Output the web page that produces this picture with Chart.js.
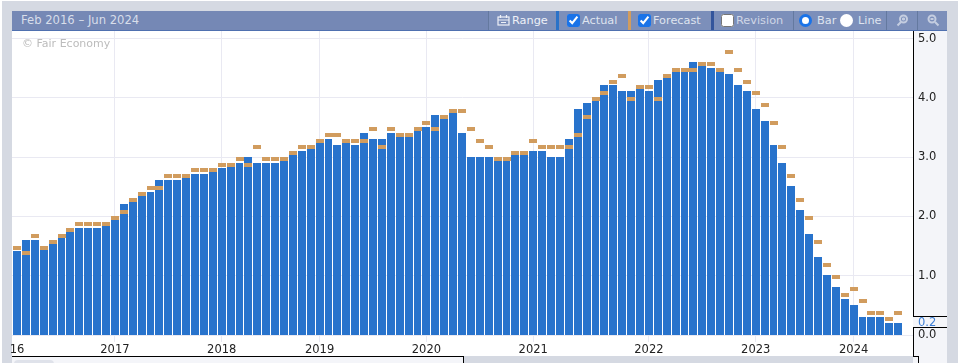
<!DOCTYPE html>
<html>
<head>
<meta charset="utf-8">
<script src="https://cdn.jsdelivr.net/npm/chart.js@4"></script>
<style>
  html, body { margin: 0; padding: 0; background: #fff; }
  body { width: 959px; height: 363px; overflow: hidden; position: relative; font: 11px "DejaVu Sans", sans-serif; }
  .box { position: absolute; }
  #chart { position: absolute; left: 0; top: 0; }
  .seg { position: absolute; top: 11px; height: 19px; background: #7c8fba; border-left: 1px solid #64799f; color: #dfe4ef; font-size: 11.3px; line-height: 19px; white-space: nowrap; box-sizing: border-box; }
  .seg input { position: absolute; top: 3px; margin: 0; width: 13px; height: 13px; accent-color: #1a73e8; }
  .seg span { position: absolute; top: 0; }
  .strip { position: absolute; top: 11px; height: 19px; width: 3px; }
  .radio { position: absolute; top: 3px; width: 13px; height: 13px; border-radius: 50%; background: #fff; box-sizing: border-box; }
  .seg svg { position: absolute; }
</style>
</head>
<body>
<div class="box" style="left:2px;top:1px;width:956px;height:362px;background:#d5d9e2"></div>
<div class="box" style="left:12px;top:31px;width:901px;height:325px;background:#fff"></div>
<div class="box" style="left:913px;top:31px;width:34px;height:332px;background:#f4f5f9"></div>
<div class="box" style="left:12px;top:356px;width:451px;height:7px;background:#f4f5f9"></div>
<div class="box" style="left:14px;top:360px;width:40px;height:4px;background:#dfe2ea;border-radius:8px 8px 0 0"></div>

<canvas id="chart" width="959" height="363"></canvas>

<div class="box" style="left:913px;top:31px;width:1px;height:286px;background:#000"></div>
<div class="box" style="left:913px;top:316px;width:34px;height:1px;background:#000"></div>
<div class="box" style="left:913px;top:327px;width:34px;height:1px;background:#000"></div>
<div class="box" style="left:913px;top:327px;width:1px;height:30px;background:#000"></div>
<div class="box" style="left:913px;top:356px;width:6px;height:1px;background:#000"></div>
<div class="box" style="left:918px;top:356px;width:1px;height:7px;background:#000"></div>
<div class="box" style="left:12px;top:356px;width:451px;height:1px;background:#000"></div>
<div class="box" style="left:463px;top:356px;width:1px;height:7px;background:#000"></div>

<div class="box" style="left:12px;top:11px;width:935px;height:19px;background:#7588b5"></div>
<div class="box" style="left:12px;top:30px;width:935px;height:1px;background:#4f70b0"></div>
<div class="box" style="left:21px;top:11px;line-height:19px;font-size:11.6px;color:#d8deea">Feb 2016 – Jun 2024</div>
<div class="box" style="left:22px;top:37px;line-height:14px;color:#bcbcbc">© Fair Economy</div>

<div class="seg" style="left:488px;width:68px;color:#eef1f7">
  <svg style="left:8px;top:3px" width="13" height="12" viewBox="0 0 13 12" fill="none" stroke="#eef1f7" stroke-width="1.2"><rect x="1" y="3" width="11" height="8"/><path d="M1 6h11M3.5 1v3M9.5 1v3M4 8.5h5"/></svg>
  <span style="left:23px">Range</span>
</div>
<div class="strip" style="left:556px;background:#2a72c8"></div>
<div class="seg" style="left:559px;width:69px;border:0">
  <input type="checkbox" checked style="left:8px"><span style="left:23px">Actual</span>
</div>
<div class="strip" style="left:628px;background:#d19c5e"></div>
<div class="seg" style="left:631px;width:80px;border:0">
  <input type="checkbox" checked style="left:7px"><span style="left:22px">Forecast</span>
</div>
<div class="strip" style="left:711px;background:#33559c"></div>
<div class="seg" style="left:714px;width:80px;border:0">
  <input type="checkbox" style="left:7px"><span style="left:22px;color:#cfd6e6">Revision</span>
</div>
<div class="seg" style="left:793px;width:93px">
  <div class="radio" style="left:5px;border:3px solid #1a73e8"></div><span style="left:23px">Bar</span>
  <div class="radio" style="left:46px"></div><span style="left:64px">Line</span>
</div>
<div class="seg" style="left:886px;width:31px">
  <svg style="left:9px;top:3px" width="13" height="13" viewBox="0 0 13 13" fill="none" stroke="#c4cde0" stroke-width="2"><circle cx="7.5" cy="5" r="3.5"/><path d="M5 8l-3.5 3.5M6 5h3M7.5 3.5v3" /></svg>
</div>
<div class="seg" style="left:917px;width:30px">
  <svg style="left:9px;top:3px" width="13" height="13" viewBox="0 0 13 13" fill="none" stroke="#c4cde0" stroke-width="2"><circle cx="5" cy="5" r="3.5"/><path d="M8 8l3.5 3.5M3.5 5h3"/></svg>
</div>

<script>
// 발표 순서대로 읽은 값 (Feb 2016 - Jun 2024)
const actual = [
  1.4, 1.6, 1.6, 1.5, 1.6, 1.7, 1.8, 1.8, 1.8, 1.8,
  1.9, 2.0, 2.2, 2.3, 2.4, 2.4, 2.6, 2.6, 2.6, 2.7,
  2.7, 2.7, 2.8, 2.8, 2.9, 2.9, 3.0, 2.9, 2.9, 2.9,
  3.0, 3.1, 3.1, 3.2, 3.3, 3.3, 3.2, 3.3, 3.2, 3.4,
  3.3, 3.3, 3.4, 3.4, 3.4, 3.5, 3.5, 3.7, 3.7, 3.8,
  3.4, 3.0, 3.0, 3.0, 3.0, 3.0, 3.1, 3.1, 3.1, 3.1,
  3.0, 3.0, 3.3, 3.8, 3.9, 4.0, 4.2, 4.2, 4.1, 4.1,
  4.2, 4.1, 4.3, 4.4, 4.5, 4.5, 4.6, 4.6, 4.5, 4.5,
  4.4, 4.2, 4.1, 3.8, 3.6, 3.2, 2.9, 2.5, 2.1, 1.7,
  1.3, 1.0, 0.8, 0.6, 0.5, 0.3, 0.3, 0.3, 0.2, 0.2,
];
const forecast = [
  1.5, 1.4, 1.7, 1.5, 1.6, 1.7, 1.8, 1.9, 1.9, 1.9,
  1.9, 2.0, 2.1, 2.3, 2.4, 2.5, 2.5, 2.7, 2.7, 2.7,
  2.8, 2.8, 2.8, 2.9, 2.9, 3.0, 2.9, 3.2, 3.0, 3.0,
  3.0, 3.1, 3.2, 3.2, 3.3, 3.4, 3.4, 3.3, 3.3, 3.3,
  3.5, 3.2, 3.5, 3.4, 3.4, 3.5, 3.6, 3.5, 3.7, 3.8,
  3.8, 3.5, 3.3, 3.2, 3.0, 3.0, 3.1, 3.1, 3.3, 3.2,
  3.2, 3.2, 3.2, 3.4, 3.7, 4.0, 4.1, 4.3, 4.4, 4.0,
  4.2, 4.2, 4.0, 4.4, 4.5, 4.5, 4.5, 4.6, 4.6, 4.5,
  4.8, 4.5, 4.3, 4.1, 3.9, 3.6, 3.2, 2.7, 2.3, 2.0,
  1.6, 1.2, 1.0, 0.7, 0.8, 0.6, 0.4, 0.4, 0.3, 0.4,
];
const yearLabels = ['16', '2017', '2018', '2019', '2020', '2021', '2022', '2023', '2024'];
const yearBars = [0, 11, 23, 34, 46, 58, 71, 83, 94]; // 각 연도가 시작되는 막대 번호
const valueTicks = [0, 0.2, 1, 2, 3, 4, 5];
const latestValue = 0.2;

// Forecast 표시: 8x4 직사각형
const marker = document.createElement('canvas');
marker.width = 8;
marker.height = 4;
const markerCtx = marker.getContext('2d');
markerCtx.fillStyle = '#d19c5e';
markerCtx.fillRect(0, 0, 8, 4);

const gridColor = '#e9e9f2';

// 막대와 표시를 픽셀 경계에 맞춘다 (원본처럼 흐림 없이)
const snapToPixels = {
  id: 'snapToPixels',
  beforeDatasetsDraw(chart) {
    const x = chart.scales.x;
    chart.getSortedVisibleDatasetMetas().forEach((meta) => {
      meta.data.forEach((el, i) => {
        const left = Math.ceil(x.getPixelForValue(i - 0.5));
        const right = Math.floor(x.getPixelForValue(i + 0.5));
        if (meta.type === 'bar') {
          el.x = (left + right) / 2;
          el.width = right - left;
          el.y = Math.floor(el.y);
          el.base = Math.ceil(el.base);
        } else {
          el.x = left + 4;
          el.y = Math.floor(el.y) + 2; // 값이 표시의 윗변
        }
      });
    });
  },
};

new Chart(document.getElementById('chart'), {
  data: {
    datasets: [
      {
        type: 'line',
        label: 'Forecast',
        data: forecast.map((v, i) => ({ x: i, y: v })),
        showLine: false,
        pointStyle: marker,
        order: 1,
      },
      {
        type: 'bar',
        label: 'Actual',
        data: actual.map((v, i) => ({ x: i, y: v })),
        backgroundColor: '#2873cc',
        barThickness: 8,
        inflateAmount: 0,
        order: 2,
      },
    ],
  },
  plugins: [snapToPixels],
  options: {
    responsive: false,
    animation: false,
    layout: { padding: { left: 12, top: 31, right: 12, bottom: 7 } },
    plugins: { legend: { display: false }, tooltip: { enabled: false } },
    scales: {
      x: {
        type: 'linear',
        offset: false,
        min: -0.56,
        max: 100.67,
        afterBuildTicks: (scale) => { scale.ticks = yearBars.map((value) => ({ value })); },
        afterFit: (scale) => { scale.height = 21; },
        border: { display: false },
        grid: {
          offset: false,
          color: (ctx) => (ctx.tick && ctx.tick.value === 0 ? 'transparent' : gridColor),
          tickLength: 7,
        },
        ticks: {
          autoSkip: false,
          maxRotation: 0,
          padding: 1,
          color: '#222',
          font: { family: 'DejaVu Sans', size: 11.5 },
          callback: (value) => yearLabels[yearBars.indexOf(value)],
        },
      },
      y: {
        position: 'right',
        min: 0,
        max: 5.127,
        afterBuildTicks: (scale) => { scale.ticks = valueTicks.map((value) => ({ value })); },
        afterFit: (scale) => { scale.width = 34; },
        border: { display: false },
        grid: {
          color: (ctx) => (ctx.tick && ctx.tick.value === latestValue ? 'transparent' : gridColor),
          drawTicks: false,
        },
        ticks: {
          autoSkip: false,
          padding: 5,
          color: (ctx) => (ctx.tick.value === latestValue ? '#3d7fd6' : '#222'),
          font: { family: 'DejaVu Sans', size: 11.5 },
          callback: (value) => value.toFixed(1),
        },
      },
    },
  },
});
</script>
</body>
</html>
